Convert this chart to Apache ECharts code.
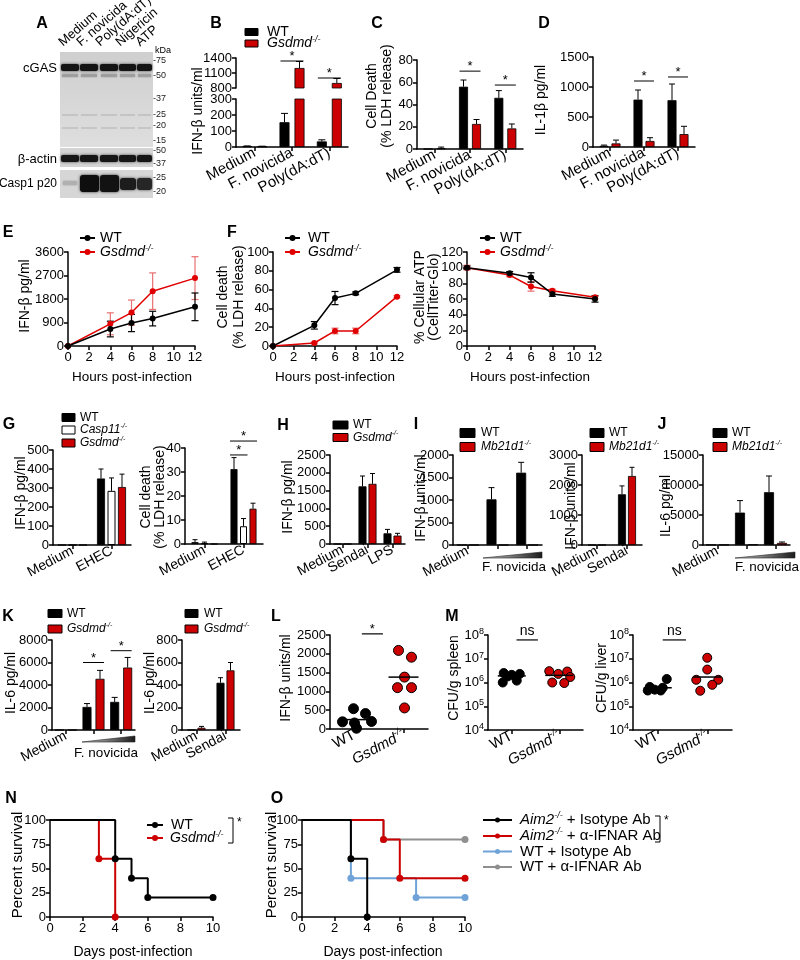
<!DOCTYPE html>
<html>
<head>
<meta charset="utf-8">
<title>Figure</title>
<script src="https://cdn.jsdelivr.net/npm/echarts@6.0.0/dist/echarts.min.js"></script>
<style>
html,body{margin:0;padding:0;background:#fff;}
#chart{width:800px;height:960px;}
</style>
</head>
<body>
<div id="chart"></div>
<script>
// ================= DATA =================
const catsInfect = ['Medium', 'F. novicida', 'Poly(dA:dT)'];
const ifnbWT = [5, 155, 35];
const ifnbWTsem = [2, 55, 10];
const ifnbKO = [3, 1200, 900];
const ifnbKOsem = [2, 130, 90];
const ldhWT = [0, 56, 46];
const ldhWTsem = [0, 6, 6.5];
const ldhKO = [0.5, 22.5, 18.5];
const ldhKOsem = [1.2, 4, 4];
const il1bWT = [20, 790, 780];
const il1bWTsem = [12, 160, 270];
const il1bKO = [60, 100, 215];
const il1bKOsem = [55, 55, 130];

const hours = [0, 4, 6, 8, 12];
const tcIfnWT = [0, 650, 880, 1050, 1500];
const tcIfnWTsem = [0, 300, 330, 280, 530];
const tcIfnKO = [0, 850, 1280, 2100, 2600];
const tcIfnKOsem = [0, 420, 480, 700, 820];
const tcLdhWT = [0, 22, 51, 56, 81];
const tcLdhWTsem = [0, 4, 7, 1.5, 2.5];
const tcLdhKO = [0, 3.2, 16, 16, 52.5];
const tcLdhKOsem = [0, 1, 3, 3, 1];
const atpWT = [100, 93, 87.5, 66.5, 60];
const atpWTsem = [2, 2, 6, 3, 4];
const atpKO = [100, 90.5, 76, 70.5, 62.3];
const atpKOsem = [3, 2, 6, 2, 2];

const catsEhec = ['Medium', 'EHEC'];
const ehecIfnWT = [0, 350], ehecIfnWTsem = [0, 50];
const ehecIfnC11 = [0, 285], ehecIfnC11sem = [0, 68];
const ehecIfnKO = [0, 305], ehecIfnKOsem = [0, 68];
const ehecLdhWT = [0.8, 31.2], ehecLdhWTsem = [1, 4.8];
const ehecLdhC11 = [0.3, 7.4], ehecLdhC11sem = [0.5, 3.2];
const ehecLdhKO = [0, 14.7], ehecLdhKOsem = [0, 2.3];

const catsSendaiLps = ['Medium', 'Sendai', 'LPS'];
const sendIfnWT = [0, 1620, 300], sendIfnWTsem = [0, 290, 110];
const sendIfnKO = [0, 1690, 236], sendIfnKOsem = [0, 290, 64];

const catsDose = ['Medium', 'F. novicida low', 'F. novicida high'];
const catsSendai = ['Medium', 'Sendai'];
const cgasIfnWT = [0, 1015, 1607], cgasIfnWTsem = [0, 260, 230];
const cgasIfnKO = [0, 0, 0], cgasIfnKOsem = [0, 0, 0];
const cgasSendWT = [0, 1690], cgasSendWTsem = [0, 280];
const cgasSendKO = [0, 2300], cgasSendKOsem = [0, 290];
const cgasIl6WT = [30, 5400, 8800], cgasIl6WTsem = [0, 2000, 2700];
const cgasIl6KO = [30, 80, 350], cgasIl6KOsem = [0, 0, 150];

const gsIl6WT = [0, 2050, 2500], gsIl6WTsem = [0, 300, 400];
const gsIl6KO = [0, 4550, 5550], gsIl6KOsem = [0, 750, 900];
const gsSendIl6WT = [0, 420], gsSendIl6WTsem = [0, 45];
const gsSendIl6KO = [20, 530], gsSendIl6KOsem = [12, 70];

const catsMice = ['WT', 'Gsdmd-/-'];
const serumIfnWT = [540, 410, 200, 190, 160, 20];
const serumIfnKO = [2090, 1910, 1380, 1100, 1100, 560];
const serumIfnMean = [250, 1380];
const spleenWT = [2.5e6, 2.3e6, 2.1e6, 1.8e6, 1.2e6, 1.0e6];
const spleenKO = [3.0e6, 2.9e6, 2.3e6, 1.7e6, 1.0e6, 0.95e6];
const spleenMean = [1.9e6, 2.0e6];
const liverWT = [1.4e6, 6.5e5, 6.0e5, 5.0e5, 4.6e5, 4.6e5];
const liverKO = [1.1e7, 3.5e6, 1.3e6, 1.3e6, 8.0e5, 4.5e5];
const liverMean = [6.0e5, 1.7e6];

const survDaysWT = [0, 4, 5, 6, 10], survWT = [100, 60, 40, 20, 20];
const survDaysKO = [0, 3, 4], survKO = [100, 60, 0];
const daysAim2Iso = [0, 3, 4], survAim2Iso = [100, 60, 0];
const daysAim2Ifnar = [0, 5, 6, 10], survAim2Ifnar = [100, 80, 40, 40];
const daysWTIso = [0, 3, 7, 10], survWTIso = [100, 40, 20, 20];
const daysWTIfnar = [0, 5, 10], survWTIfnar = [100, 80, 80];

// significance annotations: [category, y value, from series, to series]
const sigB = [[1, 1340, 0, 1], [2, 1000, 0, 1]];
const sigC = [[1, 70, 0, 1], [2, 57.5, 0, 1]];
const sigD = [[1, 1100, 0, 1], [2, 1167, 0, 1]];
const sigG2 = [[1, 37.1, 0, 1], [1, 42.9, 0, 2]];
const sigK1 = [[1, 6000, 0, 1], [2, 7050, 0, 1]];

// ================= LAYOUT / STYLE =================
const FONT = '"Liberation Sans", Arial, Helvetica, sans-serif';
const RED = '#cc0000';
const RED_LINE = '#e00000';
const RED_ERR = '#e87070';
const BLUE = '#6fa3d8';
const GRAY = '#8f8f8f';
const P = {
  B_low: [236, 99, 112, 48], B_high: [236, 58, 112, 30],
  C: [417, 60, 106, 89], D: [593, 57, 102, 90],
  E: [68, 252, 127, 94], F1: [273, 252, 124, 94], F2: [467, 252, 128, 94],
  G1: [53, 450, 78, 95], G2: [185, 448, 78, 96], H: [330, 455, 75, 89],
  I1: [453, 455, 89, 90], I2: [582, 455, 60, 90], J: [703, 455, 87, 90],
  K1: [52, 640, 83, 90], K2: [182, 640, 58, 90], L: [330, 635, 98, 94],
  M1: [488, 635, 95, 95], M2: [633, 635, 99, 95], N: [50, 820, 163, 97], O: [302, 820, 163, 97]
};
const JIT = {
  lWT: [-1, 11, 17, -12, 0, 2], lKO: [-5, 8, 1, -6, 8, 1],
  sWT: [-8, 8, 0, -4, 5, -9], sKO: [-10, 8, -1, 11, -7, 5],
  vWT: [9, -8, 5, -3, 3, -10], vKO: [0, 0, -11, 11, 5, -7]
};

const grids = [], xAxes = [], yAxes = [], series = [], graphics = [];
const plainNum = v => String(v);

function richStr(str) {
  const m = /^(\S+)-\/-(.*)$/.exec(str);
  if (!m) return '{n|' + str + '}';
  return '{i|' + m[1] + '}{s|-/-}' + (m[2] ? '{n|' + m[2] + '}' : '');
}
function richStyles(size) {
  const ss = Math.round(size * 0.62);
  return {
    n: {fontFamily: FONT, fontSize: size, color: '#000', lineHeight: size + 3},
    i: {fontFamily: FONT, fontSize: size, fontStyle: 'italic', color: '#000', lineHeight: size + 3},
    s: {fontFamily: FONT, fontSize: ss, fontStyle: 'italic', color: '#000', verticalAlign: 'top', lineHeight: ss + 1}
  };
}
function axLine() { return {show: true, onZero: false, lineStyle: {color: '#000', width: 1.5}}; }
function axTick(align) { return {show: true, alignWithLabel: !!align, length: 4, lineStyle: {color: '#000', width: 1.5}}; }
function addGrid(b) { grids.push({left: b[0], top: b[1], width: b[2], height: b[3]}); return grids.length - 1; }
function valueY(gi, min, max, interval) {
  yAxes.push({type: 'value', gridIndex: gi, min: min, max: max, interval: interval,
    axisLine: axLine(), axisTick: axTick(), splitLine: {show: false},
    axisLabel: {color: '#000', fontFamily: FONT, fontSize: 13, margin: 4, formatter: plainNum}});
  return yAxes.length - 1;
}
function logY(gi) {
  yAxes.push({type: 'log', logBase: 10, gridIndex: gi, min: 1e4, max: 1e8,
    axisLine: axLine(), axisTick: axTick(), splitLine: {show: false}, minorTick: {show: false},
    axisLabel: {margin: 4, formatter: v => '{b|10}{e|' + Math.round(Math.log10(v)) + '}',
      rich: {b: {fontFamily: FONT, fontSize: 13, color: '#000', lineHeight: 16},
             e: {fontFamily: FONT, fontSize: 9, color: '#000', verticalAlign: 'top', lineHeight: 9}}}});
  return yAxes.length - 1;
}
function valueX(gi, min, max, interval) {
  xAxes.push({type: 'value', gridIndex: gi, min: min, max: max, interval: interval,
    axisLine: axLine(), axisTick: axTick(), splitLine: {show: false},
    axisLabel: {color: '#000', fontFamily: FONT, fontSize: 13, margin: 5, formatter: plainNum}});
  return xAxes.length - 1;
}
function catX(gi, cats, o) {
  const fs = o.fs || 15;
  xAxes.push({type: 'category', gridIndex: gi, data: cats, show: o.show !== false, boundaryGap: true,
    axisLine: axLine(), axisTick: axTick(true), splitLine: {show: false},
    axisLabel: {interval: 0, rotate: o.rot == null ? 28 : o.rot, margin: 5, color: '#000', fontFamily: FONT, fontSize: fs,
      formatter: o.fmt || (v => richStr(v)), rich: richStyles(fs)}});
  return xAxes.length - 1;
}

function errUp(xi, yi, vals, errs, off, cap) {
  return {type: 'custom', xAxisIndex: xi, yAxisIndex: yi, silent: true, animation: false, z: 3,
    data: vals.map((v, i) => [i, v, errs[i]]),
    renderItem: function (params, api) {
      const e = api.value(2); if (!e) return null;
      const cs = params.coordSys;
      const k = api.value(0), v = api.value(1);
      const p0 = api.coord([k, v]), p1 = api.coord([k, v + e]);
      const x = p0[0] + off;
      const top = cs.y, bot = cs.y + cs.height;
      const capIn = p1[1] >= top - 0.5 && p1[1] <= bot + 0.5;
      const y0 = Math.min(Math.max(p0[1], top), bot), y1 = Math.min(Math.max(p1[1], top), bot);
      const ch = [];
      if (Math.abs(y0 - y1) > 0.5) ch.push({type: 'line', shape: {x1: x, y1: y0, x2: x, y2: y1}, style: {stroke: '#000', lineWidth: 1}});
      if (capIn) ch.push({type: 'line', shape: {x1: x - cap / 2, y1: y1, x2: x + cap / 2, y2: y1}, style: {stroke: '#000', lineWidth: 1}});
      return {type: 'group', children: ch};
    }};
}
function errSym(xi, yi, xs, vals, errs, color) {
  return {type: 'custom', xAxisIndex: xi, yAxisIndex: yi, silent: true, animation: false, z: 2,
    data: xs.map((x, i) => [x, vals[i], errs[i]]),
    renderItem: function (params, api) {
      const e = api.value(2); if (!e) return null;
      const x = api.value(0), v = api.value(1);
      const a = api.coord([x, v - e]), b = api.coord([x, v + e]);
      const st = {stroke: color, lineWidth: 1.2};
      return {type: 'group', children: [
        {type: 'line', shape: {x1: a[0], y1: a[1], x2: b[0], y2: b[1]}, style: st},
        {type: 'line', shape: {x1: a[0] - 3.5, y1: a[1], x2: a[0] + 3.5, y2: a[1]}, style: st},
        {type: 'line', shape: {x1: b[0] - 3.5, y1: b[1], x2: b[0] + 3.5, y2: b[1]}, style: st}
      ]};
    }};
}
function starText(x, y, t) {
  return {type: 'text', style: {text: t, x: x, y: y, align: 'center', textAlign: 'center', verticalAlign: 'bottom', textVerticalAlign: 'bottom',
    font: (t === '*' ? '13px ' : '14px ') + FONT, fill: '#000'}};
}
function sigBars(xi, yi, sig, offs) {
  return {type: 'custom', xAxisIndex: xi, yAxisIndex: yi, silent: true, animation: false, z: 4,
    data: sig.map(s => [s[0], s[1]]),
    renderItem: function (params, api) {
      const s = sig[params.dataIndex];
      const p = api.coord([s[0], s[1]]);
      const x1 = p[0] + offs[s[2]] - 4, x2 = p[0] + offs[s[3]] + 4;
      return {type: 'group', children: [
        {type: 'line', shape: {x1: x1, y1: p[1], x2: x2, y2: p[1]}, style: {stroke: '#000', lineWidth: 1}},
        starText((x1 + x2) / 2, p[1] + 2, '*')
      ]};
    }};
}
function sigBetween(xi, yi, s) {
  return {type: 'custom', xAxisIndex: xi, yAxisIndex: yi, silent: true, animation: false, z: 4,
    data: [[0, s.y]],
    renderItem: function (params, api) {
      const c0 = api.coord([0, s.y]), c1 = api.coord([1, s.y]);
      const x1 = c0[0] + s.a * (c1[0] - c0[0]), x2 = c0[0] + s.b * (c1[0] - c0[0]);
      return {type: 'group', children: [
        {type: 'line', shape: {x1: x1, y1: c0[1], x2: x2, y2: c0[1]}, style: {stroke: '#000', lineWidth: 1.2}},
        starText((x1 + x2) / 2, c0[1] - (s.text === '*' ? -2 : 2), s.text)
      ]};
    }};
}

function barPanel(o) {
  const gi = addGrid(o.box);
  const xi = catX(gi, o.cats, o);
  const yi = valueY(gi, o.min, o.max, o.int);
  const n = o.ser.length, tot = n * o.bw + (n - 1) * o.gap;
  const offs = o.ser.map((s, i) => -tot / 2 + o.bw / 2 + i * (o.bw + o.gap));
  o.ser.forEach(s => {
    series.push({type: 'bar', name: s.name, xAxisIndex: xi, yAxisIndex: yi, data: s.data,
      barWidth: o.bw, barGap: (o.gap / o.bw * 100) + '%', clip: true, silent: true, animation: false,
      itemStyle: {color: s.color, borderColor: '#000', borderWidth: s.bwid == null ? 0.8 : s.bwid}});
  });
  o.ser.forEach((s, i) => { if (s.err) series.push(errUp(xi, yi, s.data, s.err, offs[i], o.cap || 6)); });
  if (o.sig) series.push(sigBars(xi, yi, o.sig, offs));
}
function linePanel(o) {
  const gi = addGrid(o.box);
  const xi = valueX(gi, 0, 12, 2);
  const yi = valueY(gi, o.min, o.max, o.int);
  o.ser.forEach(s => {
    series.push(errSym(xi, yi, hours, s.data, s.err, s.ecol));
    series.push({type: 'line', name: s.name, xAxisIndex: xi, yAxisIndex: yi, data: hours.map((h, i) => [h, s.data[i]]),
      symbol: 'circle', symbolSize: 6, showSymbol: true, silent: true, animation: false, z: 3,
      lineStyle: {color: s.color, width: 1.5}, itemStyle: {color: s.color}});
  });
}
function dotPanel(o) {
  const gi = addGrid(o.box);
  const xi = catX(gi, o.cats, {fs: 15, rot: 28});
  const yi = o.log ? logY(gi) : valueY(gi, o.min, o.max, o.int);
  o.groups.forEach((g, k) => {
    series.push({type: 'custom', name: o.cats[k], xAxisIndex: xi, yAxisIndex: yi, silent: true, animation: false, z: 3,
      data: g.vals.map((v, i) => [k, v, i]),
      renderItem: function (params, api) {
        const c = api.coord([api.value(0), api.value(1)]);
        return {type: 'circle', shape: {cx: c[0] + g.jit[api.value(2)], cy: c[1], r: o.r},
          style: {fill: g.color, stroke: '#000', lineWidth: 1}};
      }});
  });
  series.push({type: 'custom', xAxisIndex: xi, yAxisIndex: yi, silent: true, animation: false, z: 5,
    data: o.means.map((m, k) => [k, m]),
    renderItem: function (params, api) {
      const c = api.coord([api.value(0), api.value(1)]);
      return {type: 'line', shape: {x1: c[0] - o.hw, y1: c[1], x2: c[0] + o.hw, y2: c[1]}, style: {stroke: '#000', lineWidth: 1.5}};
    }});
  if (o.sig) series.push(sigBetween(xi, yi, o.sig));
}
function survPanel(o) {
  const gi = addGrid(o.box);
  const xi = valueX(gi, 0, 10, 2);
  const yi = valueY(gi, 0, 100, 25);
  o.curves.forEach(c => {
    series.push({type: 'line', step: 'end', name: c.name, xAxisIndex: xi, yAxisIndex: yi, silent: true, animation: false,
      data: c.days.map((d, i) => ({value: [d, c.vals[i]], symbol: i === 0 ? 'none' : 'circle'})),
      symbolSize: 7, lineStyle: {color: c.color, width: 2}, itemStyle: {color: c.color}});
  });
}

// ---------- graphic helpers ----------
function T(x, y, str, size, o) {
  o = o || {};
  const el = {type: 'text', x: x, y: y, rotation: o.rot || 0, silent: true, z: 10,
    style: {text: o.plain ? str : richStr(str), fill: '#000', font: (o.bold ? 'bold ' : '') + size + 'px ' + FONT,
      align: o.align || 'left', textAlign: o.align || 'left', verticalAlign: o.va || 'middle', textVerticalAlign: o.va || 'middle'}};
  if (!o.plain) el.style.rich = richStyles(size);
  if (o.lh) el.style.lineHeight = o.lh;
  if (o.fill) el.style.fill = o.fill;
  graphics.push(el);
}
function R(x, y, w, h, style) {
  graphics.push({type: 'rect', shape: {x: x, y: y, width: w, height: h, r: style.r || 0}, style: style, silent: true, z: 5});
}
function LegBox(x, y, w, h, fill, label, size, tx) {
  R(x, y - h / 2, w, h, {fill: fill, stroke: '#000', lineWidth: 1});
  T(tx, y, label, size);
}
function LegLine(x1, x2, y, color, label, size, tx, r) {
  graphics.push({type: 'line', shape: {x1: x1, y1: y, x2: x2, y2: y}, style: {stroke: color, lineWidth: 2}, silent: true, z: 5});
  graphics.push({type: 'circle', shape: {cx: (x1 + x2) / 2, cy: y, r: r}, style: {fill: color}, silent: true, z: 6});
  T(tx, y, label, size);
}
function Bracket(x, y1, y2) {
  graphics.push({type: 'polyline', shape: {points: [[x - 5, y1], [x, y1], [x, y2], [x - 5, y2]]}, style: {stroke: '#000', lineWidth: 1, fill: null}, silent: true});
  T(x + 4, y1 + 5, '*', 12, {plain: true});
}
function Wedge(x0, x1, yb, h) {
  graphics.push({type: 'polygon', shape: {points: [[x0, yb], [x1, yb - h], [x1, yb]]}, silent: true,
    style: {fill: new echarts.graphic.LinearGradient(0, 0, 1, 0, [{offset: 0, color: '#d0d0d0'}, {offset: 1, color: '#1a1a1a'}]), stroke: '#222', lineWidth: 0.6}});
}
const YT = Math.PI / 2;

// ================= PANELS =================
const serB = [{name: 'WT', data: ifnbWT, err: ifnbWTsem, color: '#000'}, {name: 'Gsdmd-/-', data: ifnbKO, err: ifnbKOsem, color: RED}];
barPanel({box: P.B_low, cats: catsInfect, min: 0, max: 300, int: 100, bw: 10, gap: 5, cap: 7, ser: serB});
barPanel({box: P.B_high, cats: catsInfect, show: false, min: 800, max: 1400, int: 300, bw: 10, gap: 5, cap: 7, ser: serB, sig: sigB});
barPanel({box: P.C, cats: catsInfect, min: 0, max: 80, int: 20, bw: 9, gap: 4, cap: 6, sig: sigC,
  ser: [{name: 'WT', data: ldhWT, err: ldhWTsem, color: '#000'}, {name: 'Gsdmd-/-', data: ldhKO, err: ldhKOsem, color: RED}]});
barPanel({box: P.D, cats: catsInfect, min: 0, max: 1500, int: 500, bw: 9, gap: 3, cap: 6, sig: sigD,
  ser: [{name: 'WT', data: il1bWT, err: il1bWTsem, color: '#000'}, {name: 'Gsdmd-/-', data: il1bKO, err: il1bKOsem, color: RED}]});
linePanel({box: P.E, min: 0, max: 3600, int: 900, ser: [
  {name: 'Gsdmd-/-', data: tcIfnKO, err: tcIfnKOsem, color: RED_LINE, ecol: RED_ERR},
  {name: 'WT', data: tcIfnWT, err: tcIfnWTsem, color: '#000', ecol: '#000'}]});
linePanel({box: P.F1, min: 0, max: 100, int: 20, ser: [
  {name: 'Gsdmd-/-', data: tcLdhKO, err: tcLdhKOsem, color: RED_LINE, ecol: RED_ERR},
  {name: 'WT', data: tcLdhWT, err: tcLdhWTsem, color: '#000', ecol: '#000'}]});
linePanel({box: P.F2, min: 0, max: 120, int: 20, ser: [
  {name: 'Gsdmd-/-', data: atpKO, err: atpKOsem, color: RED_LINE, ecol: RED_ERR},
  {name: 'WT', data: atpWT, err: atpWTsem, color: '#000', ecol: '#000'}]});
barPanel({box: P.G1, cats: catsEhec, fs: 14, min: 0, max: 500, int: 100, bw: 8, gap: 2.5, cap: 5, ser: [
  {name: 'WT', data: ehecIfnWT, err: ehecIfnWTsem, color: '#000'},
  {name: 'Casp11-/-', data: ehecIfnC11, err: ehecIfnC11sem, color: '#fff', bwid: 1},
  {name: 'Gsdmd-/-', data: ehecIfnKO, err: ehecIfnKOsem, color: RED}]});
barPanel({box: P.G2, cats: catsEhec, fs: 14, min: 0, max: 40, int: 10, bw: 7, gap: 2.5, cap: 5, sig: sigG2, ser: [
  {name: 'WT', data: ehecLdhWT, err: ehecLdhWTsem, color: '#000'},
  {name: 'Casp11-/-', data: ehecLdhC11, err: ehecLdhC11sem, color: '#fff', bwid: 1},
  {name: 'Gsdmd-/-', data: ehecLdhKO, err: ehecLdhKOsem, color: RED}]});
barPanel({box: P.H, cats: catsSendaiLps, fs: 14, min: 0, max: 2500, int: 500, bw: 8, gap: 2, cap: 5, ser: [
  {name: 'WT', data: sendIfnWT, err: sendIfnWTsem, color: '#000'},
  {name: 'Gsdmd-/-', data: sendIfnKO, err: sendIfnKOsem, color: RED}]});
const doseFmt = (v, i) => (i === 0 ? richStr(v) : '');
barPanel({box: P.I1, cats: catsDose, fmt: doseFmt, fs: 14, min: 0, max: 2000, int: 500, bw: 10, gap: 2, cap: 6, ser: [
  {name: 'WT', data: cgasIfnWT, err: cgasIfnWTsem, color: '#000'},
  {name: 'Mb21d1-/-', data: cgasIfnKO, err: cgasIfnKOsem, color: RED}]});
barPanel({box: P.I2, cats: catsSendai, fs: 14, min: 0, max: 3000, int: 1000, bw: 8, gap: 2, cap: 5, ser: [
  {name: 'WT', data: cgasSendWT, err: cgasSendWTsem, color: '#000'},
  {name: 'Mb21d1-/-', data: cgasSendKO, err: cgasSendKOsem, color: RED}]});
barPanel({box: P.J, cats: catsDose, fmt: doseFmt, fs: 14, min: 0, max: 15000, int: 5000, bw: 10, gap: 3, cap: 6, ser: [
  {name: 'WT', data: cgasIl6WT, err: cgasIl6WTsem, color: '#000'},
  {name: 'Mb21d1-/-', data: cgasIl6KO, err: cgasIl6KOsem, color: RED}]});
barPanel({box: P.K1, cats: catsDose, fmt: doseFmt, fs: 14, min: 0, max: 8000, int: 2000, bw: 9, gap: 4, cap: 6, sig: sigK1, ser: [
  {name: 'WT', data: gsIl6WT, err: gsIl6WTsem, color: '#000'},
  {name: 'Gsdmd-/-', data: gsIl6KO, err: gsIl6KOsem, color: RED}]});
barPanel({box: P.K2, cats: catsSendai, fs: 14, min: 0, max: 800, int: 200, bw: 8, gap: 2, cap: 5, ser: [
  {name: 'WT', data: gsSendIl6WT, err: gsSendIl6WTsem, color: '#000'},
  {name: 'Gsdmd-/-', data: gsSendIl6KO, err: gsSendIl6KOsem, color: RED}]});
dotPanel({box: P.L, cats: catsMice, min: 0, max: 2500, int: 500, r: 5, hw: 15, means: serumIfnMean,
  groups: [{vals: serumIfnWT, jit: JIT.lWT, color: '#000'}, {vals: serumIfnKO, jit: JIT.lKO, color: RED}],
  sig: {y: 2530, a: 0.15, b: 0.58, text: '*'}});
dotPanel({box: P.M1, cats: catsMice, log: true, r: 4.5, hw: 14, means: spleenMean,
  groups: [{vals: spleenWT, jit: JIT.sWT, color: '#000'}, {vals: spleenKO, jit: JIT.sKO, color: RED}],
  sig: {y: 6.2e7, a: 0.1, b: 0.55, text: 'ns'}});
dotPanel({box: P.M2, cats: catsMice, log: true, r: 4.5, hw: 14, means: liverMean,
  groups: [{vals: liverWT, jit: JIT.vWT, color: '#000'}, {vals: liverKO, jit: JIT.vKO, color: RED}],
  sig: {y: 6.2e7, a: 0.1, b: 0.57, text: 'ns'}});
survPanel({box: P.N, curves: [
  {name: 'Gsdmd-/-', days: survDaysKO, vals: survKO, color: RED},
  {name: 'WT', days: survDaysWT, vals: survWT, color: '#000'}]});
survPanel({box: P.O, curves: [
  {name: 'WT + α-IFNAR Ab', days: daysWTIfnar, vals: survWTIfnar, color: GRAY},
  {name: 'WT + Isotype Ab', days: daysWTIso, vals: survWTIso, color: BLUE},
  {name: 'Aim2-/- + α-IFNAR Ab', days: daysAim2Ifnar, vals: survAim2Ifnar, color: RED},
  {name: 'Aim2-/- + Isotype Ab', days: daysAim2Iso, vals: survAim2Iso, color: '#000'}]});

// ================= GRAPHICS: panel A blot =================
R(60, 52, 93, 95, {fill: new echarts.graphic.LinearGradient(0, 0, 0, 1, [{offset: 0, color: '#cfcfcf'}, {offset: 1, color: '#dedede'}])});
R(60, 148, 93, 19, {fill: '#d4d4d4'});
R(60, 170, 93, 28, {fill: '#d6d6d6'});
const laneX = [61, 80, 100, 119, 137], laneW = [18, 18, 18, 17, 15];
laneX.forEach((x, i) => {
  R(x, 64, laneW[i], 7, {fill: '#141414', shadowBlur: 3, shadowColor: 'rgba(0,0,0,0.7)', r: 2});
  R(x + 1, 74, laneW[i] - 2, 3, {fill: '#9e9e9e', shadowBlur: 2, shadowColor: 'rgba(0,0,0,0.3)'});
  R(x + 1, 114, laneW[i] - 2, 2, {fill: '#c4c4c4'});
  R(x + 1, 127, laneW[i] - 2, 2, {fill: '#c6c6c6'});
  R(x, 155, laneW[i], 7, {fill: '#161616', shadowBlur: 3, shadowColor: 'rgba(0,0,0,0.7)', r: 2});
});
R(63, 181, 14, 4, {fill: '#b0b0b0', shadowBlur: 2, shadowColor: 'rgba(0,0,0,0.3)'});
R(80, 175, 19, 17, {fill: '#0e0e0e', shadowBlur: 3, shadowColor: 'rgba(0,0,0,0.8)', r: 3});
R(100, 175, 19, 17, {fill: '#121212', shadowBlur: 3, shadowColor: 'rgba(0,0,0,0.8)', r: 3});
R(120, 178, 16, 12, {fill: '#1c1c1c', shadowBlur: 3, shadowColor: 'rgba(0,0,0,0.7)', r: 3});
R(137, 178, 15, 12, {fill: '#262626', shadowBlur: 3, shadowColor: 'rgba(0,0,0,0.7)', r: 3});
const laneLabels = ['Medium', 'F. novicida', 'Poly(dA:dT)', 'Nigericin', 'ATP'];
const laneLabelX = [65, 83, 102, 122, 142];
laneLabels.forEach((s, i) => T(laneLabelX[i], 49, s, 13, {rot: 41 * Math.PI / 180, va: 'bottom', plain: true}));
T(57, 68, 'cGAS', 13, {align: 'right', plain: true});
T(57, 159, 'β-actin', 13, {align: 'right', plain: true});
T(57, 184, 'Casp1 p20', 12, {align: 'right', plain: true});
T(155, 51, 'kDa', 9, {plain: true});
[['-75', 61], ['-50', 76], ['-37', 99], ['-25', 115], ['-20', 126], ['-15', 141], ['-50', 151], ['-37', 164], ['-25', 178], ['-20', 192]]
  .forEach(m => T(153, m[1], m[0], 9, {plain: true, fill: '#222'}));

// ================= GRAPHICS: letters, titles, legends =================
[['A', 42, 24], ['B', 216, 24], ['C', 377, 24], ['D', 544, 24], ['E', 8, 233], ['F', 232, 233], ['G', 9, 425],
 ['H', 283, 426], ['I', 416, 425], ['J', 662, 425], ['K', 8, 617], ['L', 276, 617], ['M', 452, 617], ['N', 11, 799], ['O', 277, 799]]
  .forEach(l => T(l[1], l[2], l[0], 16, {bold: true, align: 'center', plain: true}));

T(198, 111, 'IFN-β units/ml', 14, {rot: YT, align: 'center', plain: true});
T(379.5, 96, 'Cell Death\n(% LDH release)', 14, {rot: YT, align: 'center', plain: true, lh: 15});
T(541, 100, 'IL-1β pg/ml', 14, {rot: YT, align: 'center', plain: true});
T(25, 296, 'IFN-β pg/ml', 14, {rot: YT, align: 'center', plain: true});
T(231.5, 297, 'Cell death\n(% LDH release)', 14, {rot: YT, align: 'center', plain: true, lh: 16});
T(427.5, 297, '% Cellular ATP\n(CellTiter-Glo)', 14, {rot: YT, align: 'center', plain: true, lh: 14});
T(21, 493, 'IFN-β pg/ml', 14, {rot: YT, align: 'center', plain: true});
T(153.5, 497, 'Cell death\n(% LDH release)', 14, {rot: YT, align: 'center', plain: true, lh: 14});
T(288, 497, 'IFN-β pg/ml', 14, {rot: YT, align: 'center', plain: true});
T(421, 498, 'IFN-β units/ml', 14, {rot: YT, align: 'center', plain: true});
T(571, 506, 'IFN-β units/ml', 14, {rot: YT, align: 'center', plain: true});
T(666, 506, 'IL-6 pg/ml', 14, {rot: YT, align: 'center', plain: true});
T(11, 683, 'IL-6 pg/ml', 14, {rot: YT, align: 'center', plain: true});
T(150, 683, 'IL-6 pg/ml', 14, {rot: YT, align: 'center', plain: true});
T(286, 678, 'IFN-β units/ml', 14, {rot: YT, align: 'center', plain: true});
T(454, 678, 'CFU/g spleen', 14, {rot: YT, align: 'center', plain: true});
T(602, 678, 'CFU/g liver', 14, {rot: YT, align: 'center', plain: true});
T(18, 865, 'Percent survival', 15, {rot: YT, align: 'center', plain: true});
T(272, 865, 'Percent survival', 15, {rot: YT, align: 'center', plain: true});
T(132, 377, 'Hours post-infection', 13.5, {align: 'center', plain: true});
T(335, 377, 'Hours post-infection', 13.5, {align: 'center', plain: true});
T(530, 377, 'Hours post-infection', 13.5, {align: 'center', plain: true});
T(133, 952, 'Days post-infection', 14, {align: 'center', plain: true});
T(383, 952, 'Days post-infection', 14, {align: 'center', plain: true});

Wedge(483, 542, 558, 6); T(514, 567, 'F. novicida', 13.5, {align: 'center', plain: true});
Wedge(735, 795, 558, 6); T(767, 567, 'F. novicida', 13.5, {align: 'center', plain: true});
Wedge(82, 135, 742, 6); T(106, 753, 'F. novicida', 13.5, {align: 'center', plain: true});

LegBox(245, 32, 13, 7, '#000', 'WT', 14, 267);
LegBox(245, 43.5, 13, 7, RED, 'Gsdmd-/-', 14, 267);
LegLine(80, 95, 238, '#000', 'WT', 14, 100, 3);
LegLine(80, 95, 252, RED_LINE, 'Gsdmd-/-', 14, 100, 3);
LegLine(285, 300, 238, '#000', 'WT', 14, 308, 3);
LegLine(285, 300, 252, RED_LINE, 'Gsdmd-/-', 14, 308, 3);
LegLine(480, 495, 238, '#000', 'WT', 14, 500, 3);
LegLine(480, 495, 252, RED_LINE, 'Gsdmd-/-', 14, 500, 3);
LegBox(62, 417.5, 13, 8, '#000', 'WT', 12, 80);
LegBox(62, 430, 13, 8, '#fff', 'Casp11-/-', 12, 80);
LegBox(62, 443, 13, 8, RED, 'Gsdmd-/-', 12, 80);
LegBox(333, 425, 15, 8, '#000', 'WT', 12, 353);
LegBox(333, 437.5, 15, 8, RED, 'Gsdmd-/-', 12, 353);
LegBox(460, 433, 15, 9, '#000', 'WT', 12, 481);
LegBox(460, 447, 15, 9, RED, 'Mb21d1-/-', 12, 481);
LegBox(590, 433, 14, 9, '#000', 'WT', 12, 609);
LegBox(590, 447, 14, 9, RED, 'Mb21d1-/-', 12, 609);
LegBox(713, 433, 14, 9, '#000', 'WT', 12, 732);
LegBox(713, 447, 14, 9, RED, 'Mb21d1-/-', 12, 732);
LegBox(48, 613.5, 14, 8, '#000', 'WT', 12, 67);
LegBox(48, 629, 14, 8, RED, 'Gsdmd-/-', 12, 67);
LegBox(185, 613.5, 13, 8, '#000', 'WT', 12, 204);
LegBox(185, 629, 13, 8, RED, 'Gsdmd-/-', 12, 204);
LegLine(147, 163, 825, '#000', 'WT', 14, 171, 3);
LegLine(147, 163, 838, RED, 'Gsdmd-/-', 14, 170, 3);
Bracket(233, 818, 843);
LegLine(483, 512, 820, '#000', 'Aim2-/- + Isotype Ab', 15, 520, 2.5);
LegLine(483, 512, 836, RED, 'Aim2-/- + α-IFNAR Ab', 15, 520, 2.5);
LegLine(483, 512, 851.5, BLUE, 'WT + Isotype Ab', 15, 520, 2.5);
LegLine(483, 512, 867, GRAY, 'WT + α-IFNAR Ab', 15, 520, 2.5);
Bracket(660, 816, 842);

// ================= CHART =================
const chart = echarts.init(document.getElementById('chart'), null, {renderer: 'canvas'});
chart.setOption({
  animation: false,
  backgroundColor: '#fff',
  textStyle: {fontFamily: FONT},
  grid: grids,
  xAxis: xAxes,
  yAxis: yAxes,
  series: series,
  graphic: {elements: graphics}
});
</script>
</body>
</html>
